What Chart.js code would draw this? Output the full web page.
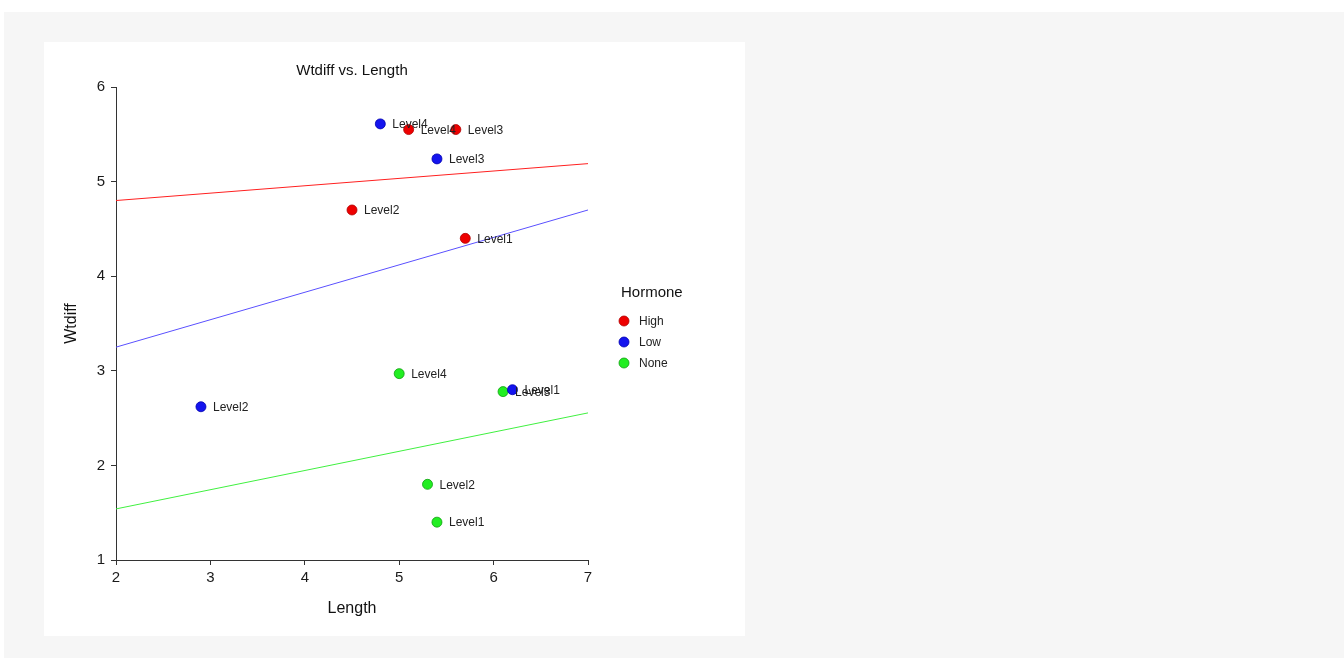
<!DOCTYPE html>
<html>
<head>
<meta charset="utf-8">
<script src="https://cdn.jsdelivr.net/npm/chart.js@4"></script>
<style>
  html, body { margin: 0; padding: 0; background: #ffffff; }
  #panel { position: absolute; left: 4px; top: 12px; width: 1340px; height: 646px; background: #f6f6f6; }
  #card { position: absolute; left: 40px; top: 30px; width: 701px; height: 594px; background: #ffffff; }
  #card canvas { display: block; }
</style>
</head>
<body>
<div id="panel">
  <div id="card"><canvas id="c" width="701" height="594"></canvas></div>
</div>
<script>
// Wtdiff vs. Length, grouped by Hormone level
const groups = ['High', 'Low', 'None'];
const groupColors = ['#ee0000', '#1414ee', '#22ee22'];
const groupBorders = ['#b00000', '#0000b0', '#10a010'];
const lineColors = ['#ff2020', '#5a50ff', '#40f040'];

const highLength = [5.1, 5.6, 4.5, 5.7];
const highWtdiff = [5.55, 5.55, 4.70, 4.40];
const highLabels = ['Level4', 'Level3', 'Level2', 'Level1'];

const lowLength = [4.8, 5.4, 2.9, 6.2];
const lowWtdiff = [5.61, 5.24, 2.62, 2.80];
const lowLabels = ['Level4', 'Level3', 'Level2', 'Level1'];

const noneLength = [5.0, 6.1, 5.3, 5.4];
const noneWtdiff = [2.97, 2.78, 1.80, 1.40];
const noneLabels = ['Level4', 'Level3', 'Level2', 'Level1'];

// fitted lines, endpoints at Length = 2 and Length = 7
const fitLength = [2, 7];
const highFit = [4.80, 5.19];
const lowFit = [3.25, 4.70];
const noneFit = [1.54, 2.555];

const xTicks = [2, 3, 4, 5, 6, 7];
const yTicks = [1, 2, 3, 4, 5, 6];

const FONT = 'Arial, "Liberation Sans", sans-serif';

function pts(xs, ys) { return xs.map((x, i) => ({ x: x, y: ys[i] })); }

const pointSets = [
  { xs: highLength, ys: highWtdiff, labels: highLabels },
  { xs: lowLength, ys: lowWtdiff, labels: lowLabels },
  { xs: noneLength, ys: noneWtdiff, labels: noneLabels }
];
const fitSets = [highFit, lowFit, noneFit];

const datasets = [];
fitSets.forEach((f, g) => {
  datasets.push({
    type: 'line', label: groups[g] + ' fit', data: pts(fitLength, f),
    borderColor: lineColors[g], borderWidth: 1, pointRadius: 0, fill: false, order: 2
  });
});
pointSets.forEach((s, g) => {
  datasets.push({
    type: 'scatter', label: groups[g], data: pts(s.xs, s.ys), pointLabels: s.labels,
    backgroundColor: groupColors[g], borderColor: groupBorders[g], borderWidth: 0.8,
    pointRadius: 5, pointHoverRadius: 5, order: 1
  });
});

const annotate = {
  id: 'annotate',
  afterDatasetsDraw(chart) {
    const ctx = chart.ctx;
    const area = chart.chartArea;
    ctx.save();
    // point labels
    ctx.font = '12px ' + FONT;
    ctx.fillStyle = '#222222';
    ctx.textAlign = 'left';
    ctx.textBaseline = 'middle';
    chart.data.datasets.forEach((ds, i) => {
      if (!ds.pointLabels) return;
      chart.getDatasetMeta(i).data.forEach((el, j) => {
        ctx.fillText(ds.pointLabels[j], el.x + 12, el.y + 1);
      });
    });
    // title
    ctx.font = '15px ' + FONT;
    ctx.fillStyle = '#111111';
    ctx.textAlign = 'center';
    ctx.fillText('Wtdiff vs. Length', (area.left + area.right) / 2, 28.5);
    // legend
    const lx = area.right + 32;
    ctx.textAlign = 'left';
    ctx.font = '15px ' + FONT;
    ctx.fillStyle = '#111111';
    ctx.fillText('Hormone', lx + 1, 250.5);
    ctx.font = '12px ' + FONT;
    groups.forEach((g, k) => {
      const y = 279 + k * 21;
      ctx.beginPath();
      ctx.arc(lx + 4, y, 5, 0, Math.PI * 2);
      ctx.fillStyle = groupColors[k];
      ctx.fill();
      ctx.lineWidth = 0.8;
      ctx.strokeStyle = groupBorders[k];
      ctx.stroke();
      ctx.fillStyle = '#222222';
      ctx.fillText(g, lx + 19, y + 1);
    });
    ctx.restore();
  }
};

new Chart(document.getElementById('c'), {
  type: 'scatter',
  data: { datasets: datasets },
  plugins: [annotate],
  options: {
    responsive: false,
    animation: false,
    events: [],
    layout: { padding: { left: 0, right: 157, top: 45, bottom: 0 } },
    plugins: { legend: { display: false }, title: { display: false }, tooltip: { enabled: false } },
    scales: {
      x: {
        type: 'linear', min: 2, max: 7,
        afterBuildTicks: (s) => { s.ticks = xTicks.map(v => ({ value: v })); },
        afterFit: (s) => { s.height = 76; },
        border: { display: true, color: '#333333', width: 1 },
        grid: { drawOnChartArea: false, drawTicks: true, tickLength: 5, color: '#333333' },
        ticks: { font: { family: FONT, size: 15 }, color: '#1a1a1a', padding: 4 },
        title: { display: true, text: 'Length', font: { family: FONT, size: 16 }, color: '#111111', padding: { top: 0, bottom: 18 } }
      },
      y: {
        type: 'linear', min: 1, max: 6,
        afterBuildTicks: (s) => { s.ticks = yTicks.map(v => ({ value: v })); },
        afterFit: (s) => { s.width = 72; },
        border: { display: true, color: '#333333', width: 1 },
        grid: { drawOnChartArea: false, drawTicks: true, tickLength: 5, color: '#333333' },
        ticks: { font: { family: FONT, size: 15 }, color: '#1a1a1a', padding: 6 },
        title: { display: true, text: 'Wtdiff', font: { family: FONT, size: 16 }, color: '#111111', padding: { top: 18, bottom: 0 } }
      }
    }
  }
});
</script>
</body>
</html>
